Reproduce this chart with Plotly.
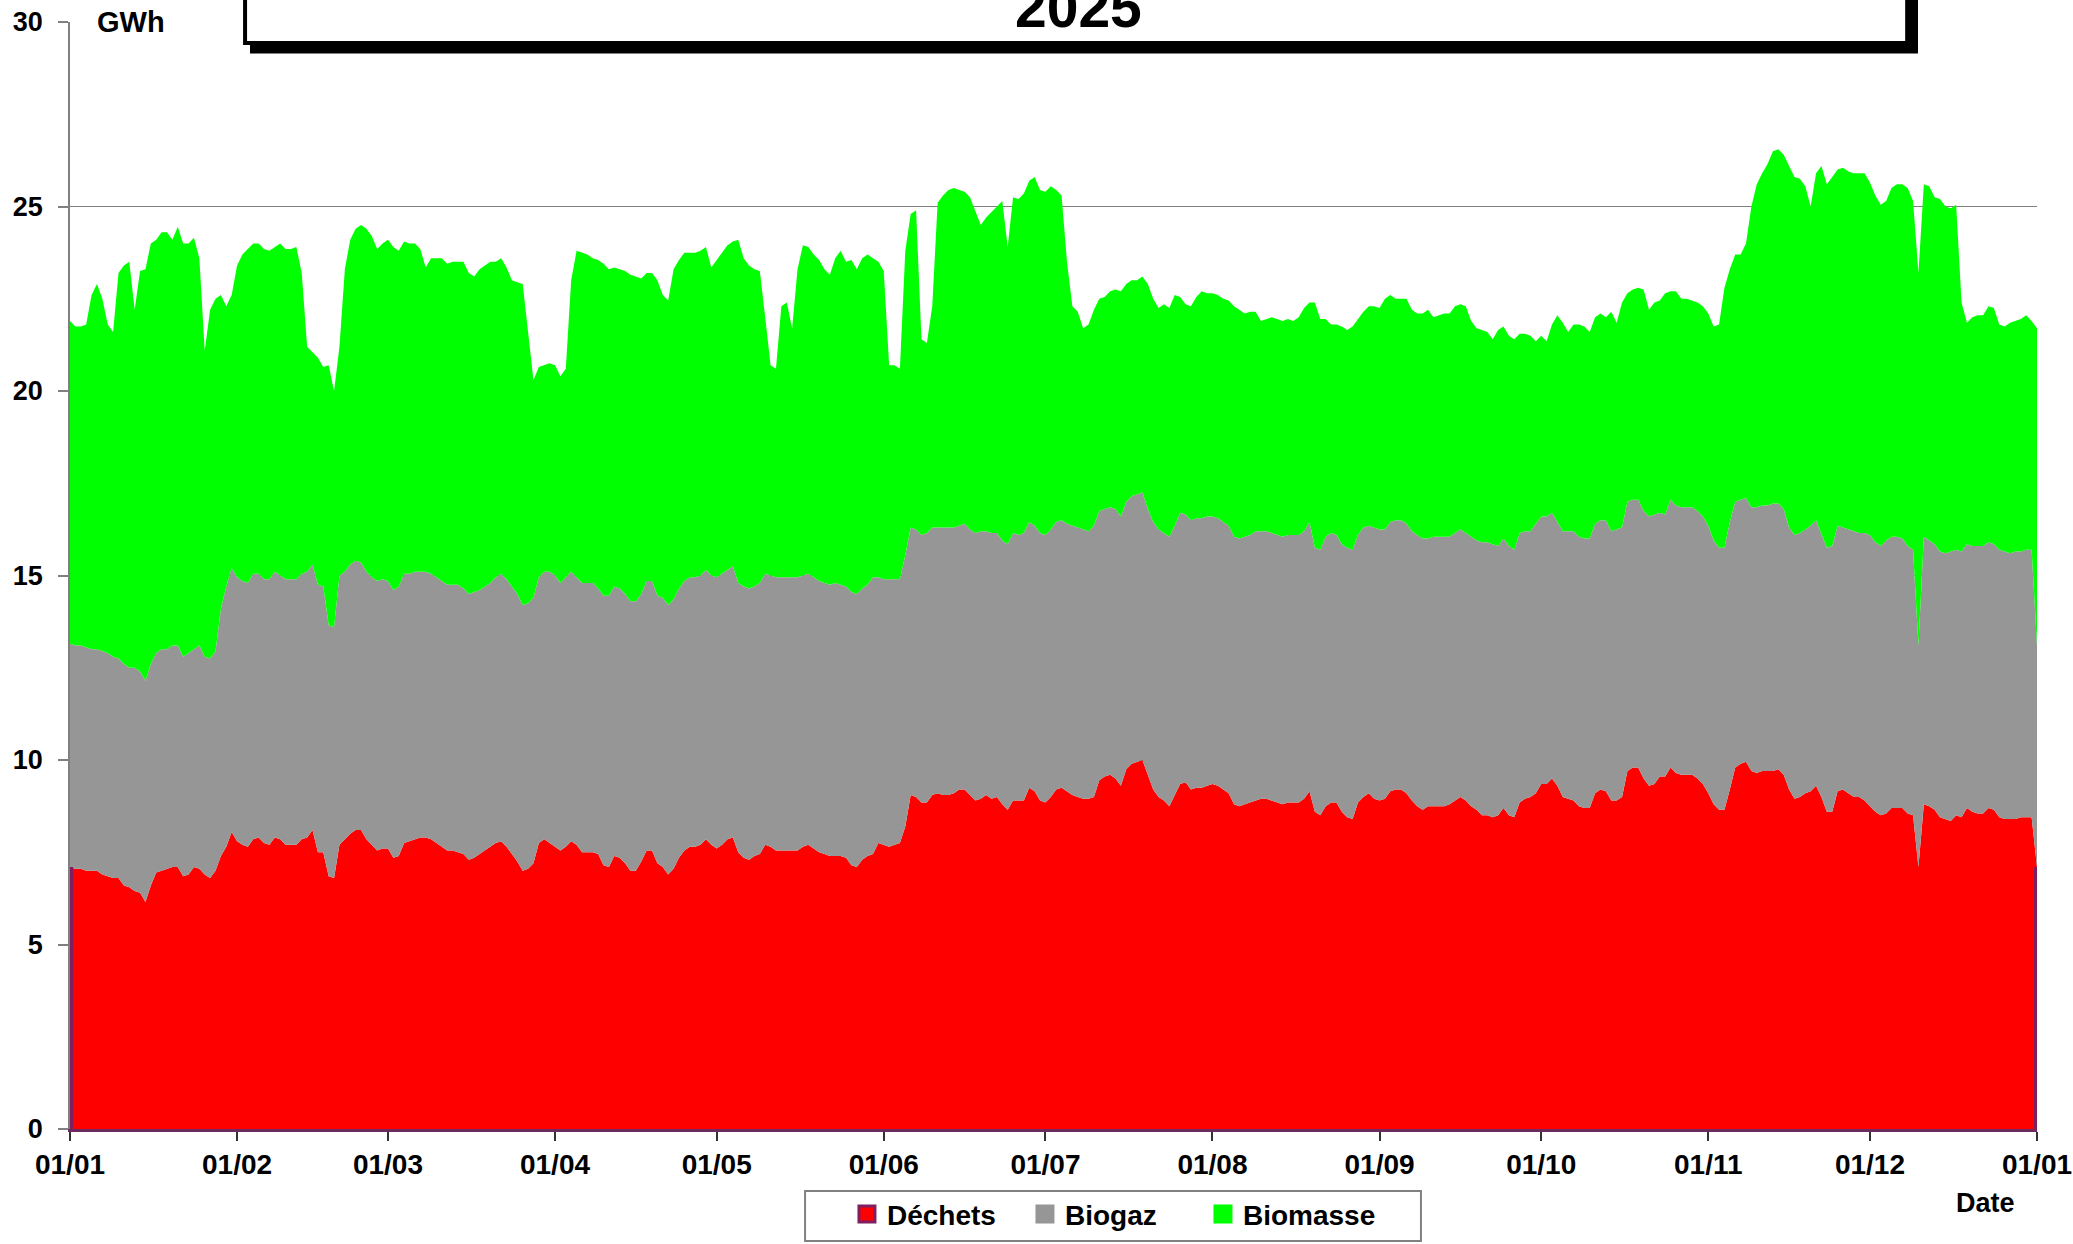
import pandas as pd
import plotly.graph_objects as go

# Daily values, 01/01/2025 .. 01/01/2026 (GWh)
dechets = [
    7.1,7.05,7.05,7.0,7.0,7.0,6.9,6.85,6.8,6.8,6.6,6.55,6.45,6.4,6.15,6.6,6.95,7.0,7.05,7.1,7.1,6.85,6.9,7.1,7.05,6.9,6.8,7.0,7.4,7.65,8.05,
    7.8,7.7,7.65,7.85,7.9,7.75,7.7,7.9,7.85,7.7,7.7,7.7,7.85,7.9,8.1,7.5,7.5,6.85,6.8,7.7,7.85,8.0,8.1,8.1,7.85,7.7,7.55,7.6,
    7.6,7.35,7.4,7.75,7.8,7.85,7.9,7.9,7.85,7.75,7.65,7.55,7.55,7.5,7.45,7.3,7.35,7.45,7.55,7.65,7.75,7.8,7.65,7.45,7.25,7.0,7.05,7.2,7.75,7.85,7.75,
    7.65,7.55,7.65,7.8,7.7,7.5,7.5,7.5,7.45,7.15,7.1,7.4,7.35,7.2,7.0,7.0,7.25,7.55,7.55,7.2,7.1,6.9,7.05,7.35,7.55,7.65,7.65,7.7,7.85,7.7,
    7.6,7.7,7.85,7.9,7.5,7.35,7.3,7.4,7.45,7.7,7.65,7.55,7.55,7.55,7.55,7.55,7.65,7.7,7.6,7.5,7.45,7.4,7.4,7.4,7.35,7.15,7.1,7.3,7.4,7.45,7.75,
    7.7,7.65,7.7,7.75,8.2,9.05,9.0,8.85,8.85,9.05,9.1,9.05,9.05,9.1,9.2,9.2,9.05,8.9,8.95,9.05,8.95,9.0,8.8,8.65,8.9,8.9,8.9,9.25,9.15,8.9,
    8.85,9.0,9.2,9.25,9.15,9.05,9.0,8.95,8.95,9.0,9.45,9.55,9.6,9.5,9.3,9.75,9.9,9.95,10.0,9.6,9.2,9.0,8.9,8.75,9.05,9.35,9.4,9.2,9.25,9.25,9.3,
    9.35,9.3,9.2,9.1,8.8,8.75,8.8,8.85,8.9,8.95,8.95,8.9,8.85,8.8,8.85,8.85,8.85,8.95,9.15,8.6,8.5,8.75,8.85,8.85,8.6,8.45,8.4,8.85,9.0,9.1,8.95,
    8.9,8.95,9.15,9.2,9.2,9.1,8.9,8.75,8.65,8.75,8.75,8.75,8.75,8.8,8.9,9.0,8.9,8.75,8.65,8.5,8.5,8.45,8.5,8.7,8.5,8.45,8.85,8.95,9.0,9.1,
    9.35,9.35,9.5,9.3,9.0,8.95,8.9,8.75,8.7,8.7,9.1,9.2,9.15,8.9,8.9,9.0,9.7,9.8,9.8,9.5,9.3,9.35,9.55,9.55,9.8,9.65,9.6,9.6,9.6,9.5,9.35,
    9.1,8.8,8.65,8.65,9.2,9.8,9.9,9.95,9.7,9.65,9.7,9.7,9.7,9.75,9.6,9.2,8.95,9.0,9.1,9.15,9.3,9.0,8.6,8.6,9.15,9.2,9.1,9.0,9.0,8.9,
    8.75,8.6,8.5,8.55,8.7,8.7,8.7,8.55,8.5,7.1,8.8,8.75,8.65,8.45,8.4,8.35,8.5,8.45,8.7,8.6,8.55,8.55,8.7,8.65,8.45,8.4,8.4,8.4,8.45,8.45,8.45,7.1,
]
biogaz = [
    6.05,6.05,6.05,6.05,6.0,6.0,6.05,6.05,6.0,5.95,6.0,5.95,6.05,6.0,6.0,6.0,5.95,6.0,5.95,6.0,6.0,5.95,6.0,5.9,6.05,5.9,5.95,5.95,6.7,7.05,7.15,
    7.15,7.15,7.15,7.2,7.15,7.15,7.2,7.2,7.15,7.2,7.2,7.2,7.2,7.2,7.2,7.25,7.2,6.8,6.8,7.3,7.25,7.3,7.3,7.25,7.25,7.25,7.3,7.3,
    7.25,7.25,7.3,7.3,7.25,7.25,7.2,7.2,7.2,7.2,7.2,7.2,7.2,7.25,7.2,7.2,7.2,7.15,7.15,7.15,7.2,7.25,7.25,7.25,7.25,7.2,7.2,7.2,7.2,7.25,7.35,
    7.35,7.25,7.3,7.3,7.25,7.3,7.3,7.3,7.2,7.3,7.35,7.3,7.3,7.3,7.3,7.3,7.25,7.3,7.3,7.25,7.3,7.3,7.3,7.3,7.3,7.3,7.3,7.3,7.3,7.3,
    7.35,7.35,7.3,7.35,7.3,7.35,7.35,7.3,7.35,7.35,7.35,7.4,7.4,7.4,7.4,7.4,7.35,7.35,7.35,7.35,7.35,7.35,7.4,7.35,7.35,7.4,7.4,7.35,7.35,7.5,7.2,
    7.2,7.25,7.2,7.15,7.35,7.25,7.25,7.25,7.3,7.25,7.2,7.25,7.25,7.2,7.15,7.2,7.2,7.25,7.25,7.15,7.2,7.15,7.15,7.2,7.25,7.2,7.25,7.2,7.2,7.25,
    7.25,7.25,7.25,7.25,7.25,7.3,7.3,7.3,7.25,7.35,7.3,7.25,7.25,7.3,7.3,7.25,7.25,7.25,7.25,7.2,7.25,7.25,7.25,7.3,7.3,7.35,7.25,7.3,7.3,7.3,7.3,
    7.25,7.25,7.25,7.25,7.25,7.25,7.25,7.25,7.3,7.25,7.25,7.25,7.25,7.25,7.25,7.25,7.25,7.25,7.3,7.15,7.2,7.3,7.3,7.25,7.25,7.3,7.3,7.25,7.3,7.25,7.35,
    7.35,7.3,7.3,7.3,7.3,7.3,7.3,7.35,7.35,7.25,7.3,7.3,7.3,7.25,7.25,7.25,7.25,7.3,7.3,7.4,7.4,7.4,7.3,7.3,7.3,7.25,7.3,7.25,7.2,7.3,
    7.25,7.25,7.2,7.15,7.2,7.25,7.3,7.3,7.3,7.3,7.3,7.3,7.35,7.3,7.35,7.3,7.3,7.25,7.25,7.25,7.3,7.3,7.15,7.1,7.25,7.25,7.25,7.25,7.25,7.25,7.25,
    7.25,7.15,7.1,7.1,7.25,7.2,7.15,7.15,7.15,7.2,7.2,7.2,7.25,7.2,7.2,7.1,7.15,7.15,7.15,7.2,7.2,7.1,7.15,7.2,7.2,7.1,7.15,7.2,7.15,7.25,
    7.35,7.3,7.3,7.4,7.35,7.35,7.3,7.25,7.2,6.0,7.25,7.2,7.2,7.2,7.2,7.3,7.2,7.2,7.15,7.2,7.25,7.25,7.2,7.2,7.25,7.25,7.2,7.25,7.2,7.25,7.25,6.0,
]
biomasse = [
    8.75,8.65,8.65,8.75,9.6,9.9,9.55,8.9,8.8,10.45,10.8,11.0,9.7,10.85,11.15,11.4,11.2,11.3,11.3,11.0,11.35,11.2,11.1,11.15,10.5,8.3,9.45,9.55,8.5,7.6,7.4,
    8.45,8.85,9.05,8.95,8.95,8.95,8.9,8.8,9.0,8.95,8.95,9.0,8.15,6.1,5.75,6.15,5.95,7.05,6.4,6.2,8.2,8.8,9.0,9.15,9.3,9.25,9.0,9.1,
    9.25,9.3,9.1,9.0,8.95,8.9,8.75,8.25,8.55,8.65,8.75,8.7,8.75,8.75,8.85,8.7,8.55,8.7,8.7,8.7,8.55,8.55,8.45,8.3,8.45,8.7,7.35,5.9,5.7,5.6,5.65,
    5.7,5.6,5.65,7.9,8.85,8.95,8.9,8.8,8.9,9.0,8.85,8.65,8.65,8.75,8.85,8.8,8.55,8.35,8.35,8.55,8.2,8.25,8.95,8.9,8.9,8.8,8.8,8.8,8.75,8.35,
    8.6,8.7,8.8,8.8,9.3,8.9,8.75,8.6,8.45,6.95,5.7,5.65,7.35,7.45,6.75,8.35,8.95,8.85,8.75,8.7,8.5,8.4,8.8,9.05,8.8,9.0,8.8,8.95,8.95,8.65,8.55,
    8.35,5.8,5.8,5.7,8.25,8.5,8.65,5.3,5.15,6.0,8.8,9.0,9.15,9.2,9.1,9.0,9.0,8.7,8.3,8.5,8.7,8.85,9.2,8.05,9.1,9.1,9.2,9.25,9.45,9.3,
    9.3,9.3,9.0,8.8,7.1,5.95,5.85,5.45,5.6,5.85,5.75,5.75,5.85,5.95,6.1,5.9,5.85,5.8,5.85,6.1,6.05,6.0,6.2,6.2,6.25,5.85,5.7,5.8,6.0,6.15,6.05,
    6.05,6.05,6.05,6.1,6.25,6.2,6.05,6.05,5.95,5.7,5.75,5.85,5.85,5.85,5.85,5.8,5.9,6.05,5.95,6.65,6.25,5.9,5.65,5.7,5.9,5.9,6.05,5.85,5.85,5.95,6.0,
    6.0,6.25,6.15,6.0,6.0,6.1,6.0,6.0,6.1,6.2,5.95,6.0,6.05,6.05,6.15,6.1,6.15,5.85,5.75,5.75,5.7,5.55,5.85,5.75,5.7,5.7,5.4,5.35,5.3,4.95,
    4.9,4.75,5.1,5.6,5.65,5.4,5.6,5.75,5.75,5.6,5.6,5.6,5.5,5.95,5.6,6.1,5.65,5.7,5.75,6.0,5.6,5.75,5.75,6.0,5.65,5.8,5.65,5.65,5.6,5.65,5.7,
    5.75,5.8,6.05,7.05,6.85,6.7,6.65,6.9,8.15,8.75,9.0,9.25,9.55,9.6,9.6,9.8,9.7,9.6,9.3,8.65,9.4,10.0,9.85,10.0,9.65,9.75,9.7,9.7,9.75,9.75,
    9.55,9.4,9.25,9.2,9.45,9.55,9.6,9.7,9.45,10.1,9.55,9.6,9.4,9.55,9.4,9.3,9.35,6.75,6.0,6.2,6.25,6.25,6.4,6.4,6.1,6.1,6.25,6.25,6.3,6.35,6.2,8.6,
]

dates = pd.date_range("2025-01-01", periods=len(dechets), freq="D")
series_names = ["Déchets", "Biogaz", "Biomasse"]
series_colors = ["#FF0000", "#969696", "#00FF00"]
dechets_edge = "#7F1F5F"
y_ticks = [0, 5, 10, 15, 20, 25, 30]
title_text = "2025"

FONT = "Liberation Sans, Arial, sans-serif"

fig = go.Figure()
for name, vals, col in zip(series_names, [dechets, biogaz, biomasse], series_colors):
    fig.add_trace(go.Scatter(
        x=dates, y=vals, name=name, mode="lines", stackgroup="one",
        line=dict(width=0, color=col), fillcolor=col, showlegend=False,
        hoverinfo="x+y+name",
    ))

# dark purple edge of the Déchets area at both ends of the year
for i in (0, -1):
    fig.add_trace(go.Scatter(
        x=[dates[i], dates[i]], y=[0, dechets[i]], mode="lines",
        line=dict(color=dechets_edge, width=6), showlegend=False, hoverinfo="skip",
    ))

# legend swatches
legend_border = [dechets_edge, "#969696", "#00FF00"]
for name, col, bc in zip(series_names, series_colors, legend_border):
    fig.add_trace(go.Scatter(
        x=[None], y=[None], mode="markers", name=name,
        marker=dict(symbol="square", size=18, color=col, line=dict(color=bc, width=3)),
    ))

fig.update_layout(
    width=2073, height=1244,
    margin=dict(l=70, r=36, t=22, b=115, autoexpand=False),
    paper_bgcolor="white", plot_bgcolor="white",
    font=dict(family=FONT, size=28, color="black", weight="bold"),
    showlegend=True,
    legend=dict(
        orientation="h", x=0.395, xanchor="left", y=-0.0545, yanchor="top",
        borderwidth=0, bgcolor="rgba(0,0,0,0)",
        font=dict(family=FONT, size=28, color="black", weight="bold"),
        traceorder="normal", itemwidth=30,
        entrywidth=133, entrywidthmode="pixels",
    ),
    xaxis=dict(
        type="date", range=[dates[0], dates[-1]],
        tickformat="%d/%m", dtick="M1", tick0="2025-01-01",
        ticks="outside", ticklen=9, tickcolor="#333333", tickwidth=1.5,
        showgrid=False, showline=True, linecolor="#6E2A5E", linewidth=2.5,
        tickfont=dict(family=FONT, size=28, color="black", weight="bold"),
        ticklabelstandoff=0, automargin=False,
        zeroline=False, fixedrange=True,
    ),
    yaxis=dict(
        range=[0, 30], tickvals=y_ticks, ticktext=[str(v) for v in y_ticks],
        ticks="outside", ticklen=10, tickcolor="#808080", tickwidth=1.5,
        showgrid=True, gridcolor="#808080", gridwidth=1.2,
        showline=True, linecolor="#808080", linewidth=1.5,
        tickfont=dict(family=FONT, size=27, color="black", weight="bold"),
        ticklabelstandoff=10, automargin=False, zeroline=False, fixedrange=True,
    ),
)

# legend frame
fig.add_shape(type="rect", xref="paper", yref="paper",
              x0=0.3737, x1=0.6868, y0=-0.1012, y1=-0.056,
              fillcolor="rgba(0,0,0,0)", line=dict(color="#808080", width=2))

# Title box with shadow (extends above the page)
fig.add_shape(type="rect", xref="paper", yref="paper",
              x0=0.0915, x1=0.9395, y0=0.9715, y1=1.2,
              fillcolor="black", line=dict(width=0), layer="above")
fig.add_shape(type="rect", xref="paper", yref="paper",
              x0=0.089, x1=0.934, y0=0.981, y1=1.2,
              fillcolor="white", line=dict(color="black", width=4), layer="above")
fig.add_annotation(text=title_text, xref="paper", yref="paper",
                   x=0.5125, y=0.983, xanchor="center", yanchor="bottom",
                   showarrow=False,
                   font=dict(family=FONT, size=57, color="black", weight="bold"))
fig.add_annotation(text="GWh", xref="paper", yref="paper",
                   x=0.031, y=1.0, xanchor="center", yanchor="middle",
                   showarrow=False, bgcolor="white", borderpad=6,
                   font=dict(family=FONT, size=29, color="black", weight="bold"))
fig.add_annotation(text="Date", xref="paper", yref="paper",
                   x=0.974, y=-0.0668, xanchor="center", yanchor="middle",
                   showarrow=False,
                   font=dict(family=FONT, size=27, color="black", weight="bold"))

fig.write_html("out.html", config={"displayModeBar": False},
               post_script="document.body.style.margin='0px';")
